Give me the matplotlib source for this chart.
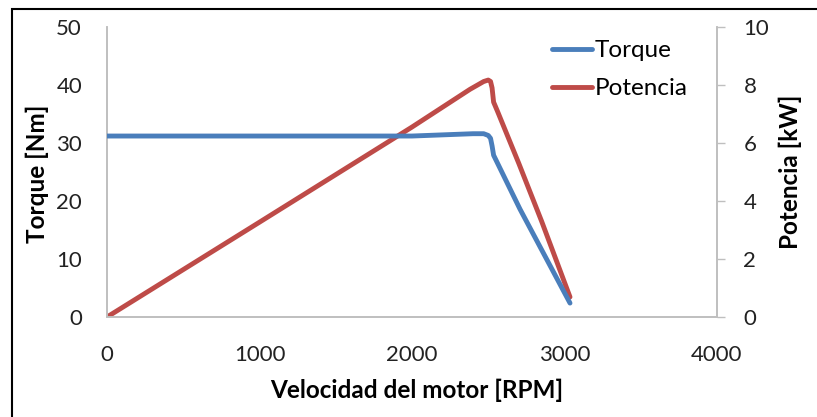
import matplotlib.pyplot as plt
from matplotlib.patches import Rectangle

# Datos
rpm_torque = [0, 1000, 2000, 2200, 2400, 2470, 2500, 2515, 2525, 2535, 2708, 3036]
torque = [31.2, 31.2, 31.2, 31.4, 31.6, 31.6, 31.3, 30.8, 29.5, 27.9, 18.6, 2.4]

rpm_pot = [0, 1000, 2000, 2380, 2470, 2500, 2515, 2525, 2535, 2560, 2700, 2850, 3036]
potencia = [0.0, 3.27, 6.55, 7.85, 8.12, 8.17, 8.12, 7.9, 7.41, 7.1, 5.3, 3.3, 0.69]

azul = "#4A7EBB"
rojo = "#BE4B48"
gris = "#BFBFBF"

plt.rcParams['font.family'] = ['Lato', 'DejaVu Sans']

fig = plt.figure(figsize=(8.17, 4.17), dpi=100)
ax = fig.add_axes([0.131, 0.2398, 0.7466, 0.6955])
ax2 = ax.twinx()

l1, = ax.plot(rpm_torque, torque, color=azul, lw=3.5, solid_capstyle='round',
              solid_joinstyle='round', label="Torque", zorder=3)
l2, = ax2.plot(rpm_pot, potencia, color=rojo, lw=3.5, solid_capstyle='round',
               solid_joinstyle='round', label="Potencia")

ax.set_xlim(0, 4000)
ax.set_ylim(0, 50)
ax2.set_ylim(0, 10)
ax.set_xticks([0, 1000, 2000, 3000, 4000])
ax.set_yticks([0, 10, 20, 30, 40, 50])
ax2.set_yticks([0, 2, 4, 6, 8, 10])

for a in (ax, ax2):
    for s in a.spines.values():
        s.set_color(gris)
        s.set_linewidth(1.2)
    a.spines['top'].set_visible(False)

ax.tick_params(axis='x', length=0, pad=20, labelsize=16, colors='#222222')
ax.tick_params(axis='y', length=0, pad=18, labelsize=16, colors='#222222')
ax2.tick_params(axis='y', length=6, width=1, color=gris, pad=13, labelsize=16, labelcolor='#222222')

ax.set_xlabel("Velocidad del motor [RPM]", fontsize=17.5, fontweight='bold', va='center')
ax.set_ylabel("Torque [Nm]", fontsize=17.5, fontweight='bold', va='center')
ax2.set_ylabel("Potencia [kW]", fontsize=17.5, fontweight='bold', va='center')
ax.xaxis.set_label_coords(0.508, -0.252)
ax.yaxis.set_label_coords(-0.115, 0.495)
ax2.yaxis.set_label_coords(1.12, 0.5)

ax2.set_zorder(ax.get_zorder() - 1)
ax.patch.set_visible(False)

leg = ax.legend(handles=[l1, l2], loc='upper left', bbox_to_anchor=(0.7295, 0.955),
                frameon=False, fontsize=17.5, handlelength=1.65, handletextpad=0.12,
                labelspacing=0.7, borderpad=0, borderaxespad=0)

# Marco exterior
fig.patches.append(Rectangle((12 / 817, -0.1), 1.2, 1 - 9 / 417 + 0.1,
                             transform=fig.transFigure, fill=False,
                             edgecolor='black', lw=1.5, clip_on=False))

fig.savefig("out.png", dpi=100)
